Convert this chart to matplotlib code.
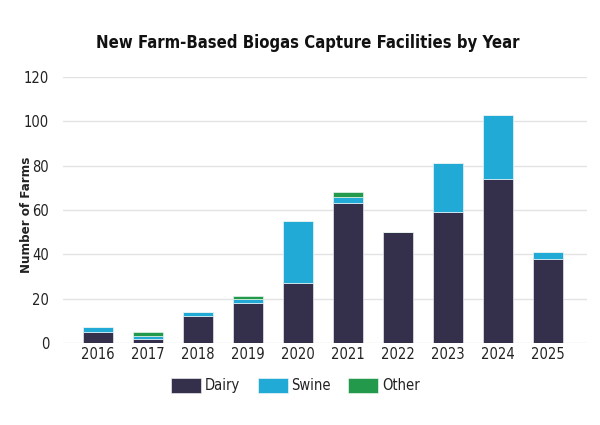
import matplotlib
matplotlib.use("Agg")
import matplotlib.pyplot as plt
import numpy as np

years = ["2016", "2017", "2018", "2019", "2020", "2021", "2022", "2023", "2024", "2025"]
dairy = [5, 2, 12, 18, 27, 63, 50, 59, 74, 38]
swine = [2, 1, 2, 2, 28, 3, 0, 22, 29, 3]
other = [0, 2, 0, 1, 0, 2, 0, 0, 0, 0]
yticks = [0, 20, 40, 60, 80, 100, 120]

c_dairy = "#34304c"
c_swine = "#22aad6"
c_other = "#23994b"
txt = "#222222"

plt.rcParams['font.family'] = ['DejaVu Sans']
plt.rcParams['font.stretch'] = 'condensed'

fig = plt.figure(figsize=(6, 4.25), dpi=100)
ax = fig.add_axes([0.105, 0.193, 0.873, 0.626])

x = np.arange(len(years))
w = 0.6
d = np.array(dairy)
s = np.array(swine)
o = np.array(other)
ax.bar(x, d, w, color=c_dairy, edgecolor="#e8e8ee", linewidth=0.5, label="Dairy", zorder=3)
ax.bar(x, s, w, bottom=d, color=c_swine, edgecolor="#e8f4f8", linewidth=0.5, label="Swine", zorder=3)
ax.bar(x, o, w, bottom=d + s, color=c_other, edgecolor="#e8f4ec", linewidth=0.5, label="Other", zorder=3)

ax.set_xlim(-0.7, 9.78)
ax.set_ylim(0, 120)
ax.set_yticks(yticks)
ax.set_xticks(x)
ax.set_xticklabels(years)
ax.grid(axis="y", color="#e3e3e3", linewidth=1, zorder=0)
for sp in ax.spines.values():
    sp.set_visible(False)
ax.tick_params(axis="both", length=0, labelsize=10.5, colors=txt)
ax.tick_params(axis="y", pad=10)
ax.tick_params(axis="x", pad=3)
ax.set_ylabel("Number of Farms", fontsize=9.5, fontweight="bold", color=txt)
ax.yaxis.set_label_coords(-0.058, 0.48)

fig.text(0.513, 0.9, "New Farm-Based Biogas Capture Facilities by Year",
         ha="center", va="center", fontsize=12, fontweight="bold", color="#111111")

fig.legend(loc="center", bbox_to_anchor=(0.4925, 0.092), ncol=3, frameon=False,
           fontsize=10.5, handlelength=2.05, handleheight=1.15, handletextpad=0.25,
           columnspacing=1.2, labelcolor=txt)

fig.savefig("out.png", dpi=100, facecolor="white")
